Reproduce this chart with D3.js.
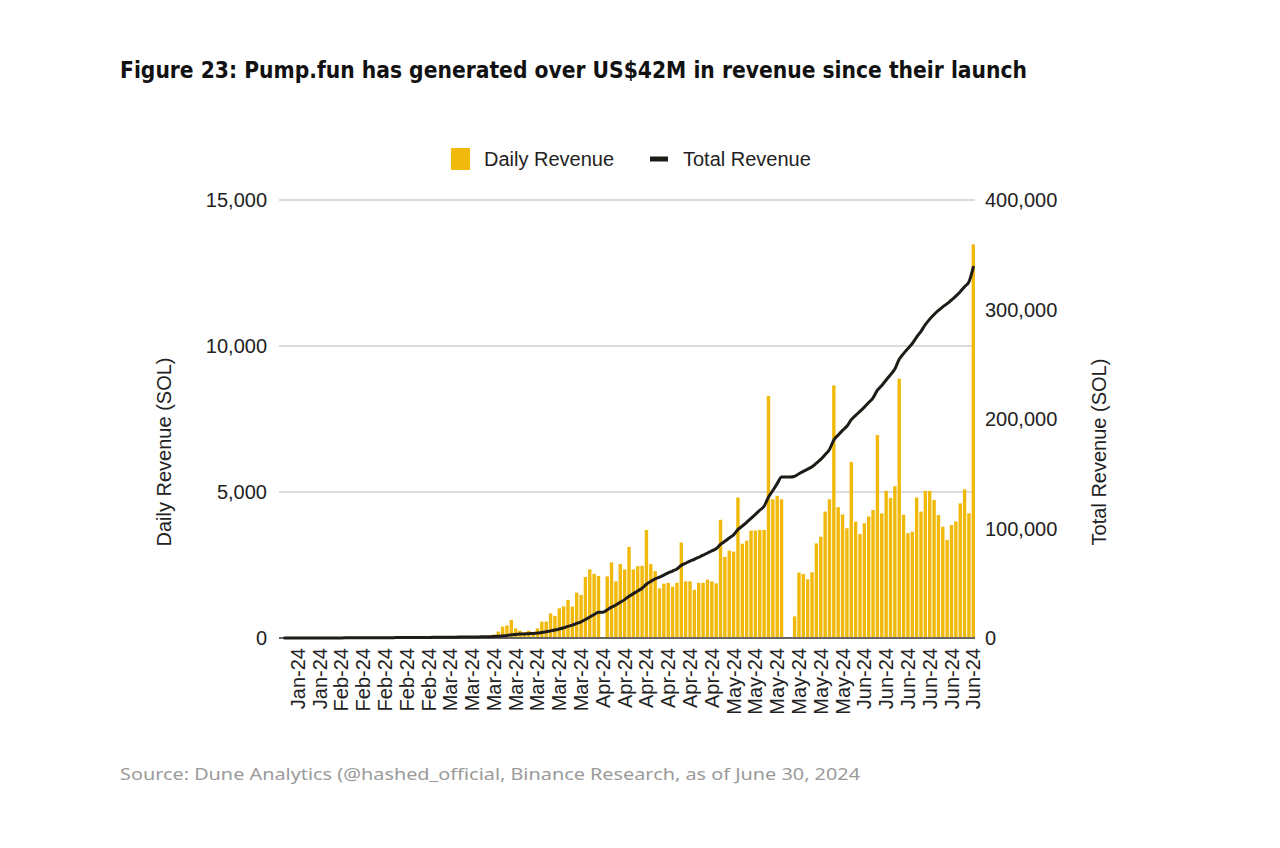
<!DOCTYPE html>
<html>
<head>
<meta charset="utf-8">
<script src="https://cdn.jsdelivr.net/npm/d3@7"></script>
<style>
  html, body { margin: 0; padding: 0; background: #ffffff; }
  svg { display: block; }
</style>
</head>
<body>
<svg id="chart" width="1280" height="848"></svg>
<script>
// ---------------- DATA ----------------
const startDay = "2024-01-23";
const endDayExclusive = "2024-06-30";

// Daily revenue (SOL), one value per day from Jan 23 to Jun 29, 2024
const dailyRevenue = [
  3,4,4,6,5,7,6,8,9,
  10,12,11,14,13,15,16,14,18,17,19,20,18,22,21,24,23,25,22,26,28,27,30,29,31,33,30,35,34,
  36,38,40,42,45,48,50,55,60,80,
  120,220,390,430,620,330,250,200,250,200,330,560,560,845,760,1015,1085,1300,1075,1555,1475,2090,2350,2195,
  2125,0,2110,2590,1940,2535,2350,3120,2350,2460,2470,3700,2530,2290,1700,1860,1890,1760,1890,3270,1940,1940,1650,1890,1890,2000,1940,1870,
  4050,2780,2990,2960,4810,3230,3330,3680,3680,3700,3700,8290,4750,4870,4750,0,0,
  740,2240,2190,2010,2250,3240,3470,4330,4750,8650,4480,4230,3760,6030,3985,3560,3930,4160,4385,6950,
  4270,5040,4800,5200,8880,4220,3590,3640,4810,4330,5040,5040,4730,4210,3810,3360,3870,3990,4610,5090,4270,13480
];

// Total revenue (SOL), same days
const totalRevenue = [
  3,7,11,17,22,29,35,43,52,
  62,74,85,99,112,127,143,157,175,192,211,231,249,271,292,316,339,364,386,412,440,467,497,526,557,590,620,655,689,
  725,763,803,845,890,938,988,1043,1103,1183,
  1303,1523,1913,2343,2963,3293,3543,3743,3993,4193,4523,5083,5643,6488,7248,8263,9348,10648,11723,13278,14753,16843,19193,21388,
  23513,23513,25623,28213,30153,32688,35038,38158,40508,42968,45438,49138,51668,53958,55658,57518,59408,61168,63058,66328,68268,70208,71858,73748,75638,77638,79578,81448,
  85498,88278,91268,94228,99038,102268,105598,109278,112958,116658,120358,128648,134700,141000,147000,147000,147000,
  147740,149980,152170,154180,156430,159670,163140,167470,172220,180870,185350,189580,193340,199370,203355,206915,210845,215005,219390,226340,
  230610,235650,240450,245650,254530,259750,264340,268980,274790,280120,286160,291200,295430,299140,302450,305310,308680,312170,316280,320870,325140,338620
];

const tickDates = [
  "2024-01-26","2024-01-31","2024-02-05","2024-02-10","2024-02-15","2024-02-20","2024-02-25",
  "2024-03-01","2024-03-06","2024-03-11","2024-03-16","2024-03-21","2024-03-26","2024-03-31",
  "2024-04-05","2024-04-10","2024-04-15","2024-04-20","2024-04-25","2024-04-30",
  "2024-05-05","2024-05-10","2024-05-15","2024-05-20","2024-05-25","2024-05-30",
  "2024-06-04","2024-06-09","2024-06-14","2024-06-19","2024-06-24","2024-06-29"
];
const tickLabels = [
  "Jan-24","Jan-24","Feb-24","Feb-24","Feb-24","Feb-24","Feb-24",
  "Mar-24","Mar-24","Mar-24","Mar-24","Mar-24","Mar-24","Mar-24",
  "Apr-24","Apr-24","Apr-24","Apr-24","Apr-24","Apr-24",
  "May-24","May-24","May-24","May-24","May-24","May-24",
  "Jun-24","Jun-24","Jun-24","Jun-24","Jun-24","Jun-24"
];
const leftTicks = [0, 5000, 10000, 15000];
const rightTicks = [0, 100000, 200000, 300000, 400000];
const seriesNames = ["Daily Revenue", "Total Revenue"];

const titleText = "Figure 23: Pump.fun has generated over US$42M in revenue since their launch";
const sourceText = "Source: Dune Analytics (@hashed_official, Binance Research, as of June 30, 2024";

// ---------------- CHART ----------------
const parse = d3.timeParse("%Y-%m-%d");
const fmtKey = d3.timeFormat("%Y-%m-%d");
const days = d3.timeDay.range(parse(startDay), parse(endDayExclusive)).map(fmtKey);

const svg = d3.select("#chart");
const plot = { left: 283, right: 975, top: 200, bottom: 638 };
const barColor = "#F0B90B";
const lineColor = "#1f1b16";
const textFont = "'Liberation Sans', Arial, sans-serif";
const fs = 20;

const x = d3.scaleBand().domain(days).range([plot.left, plot.right]).paddingInner(0.22).paddingOuter(0);
const yL = d3.scaleLinear().domain([0, 15000]).range([plot.bottom, plot.top]);
const yR = d3.scaleLinear().domain([0, 400000]).range([plot.bottom, plot.top]);
const fmt = d3.format(",");

// Title
svg.append("text")
  .attr("x", 120).attr("y", 78)
  .attr("font-family", "'DejaVu Sans Condensed', 'Liberation Sans Narrow', 'Roboto', sans-serif")
  .attr("font-weight", "bold")
  .attr("font-size", 23)
  .attr("fill", "#111")
  .attr("textLength", 907)
  .attr("lengthAdjust", "spacingAndGlyphs")
  .text(titleText);

// Gridlines (left axis ticks)
svg.append("g").selectAll("line")
  .data(leftTicks.filter(d => d > 0))
  .join("line")
  .attr("x1", 279).attr("x2", plot.right)
  .attr("y1", d => yL(d)).attr("y2", d => yL(d))
  .attr("stroke", "#cfcfcf").attr("stroke-width", 1.3);

// Bars
svg.append("g").selectAll("rect")
  .data(days.map((d, i) => ({ day: d, v: dailyRevenue[i] })))
  .join("rect")
  .attr("x", d => x(d.day))
  .attr("width", x.bandwidth())
  .attr("y", d => yL(d.v))
  .attr("height", d => plot.bottom - yL(d.v))
  .attr("fill", barColor);

// Baseline
svg.append("line")
  .attr("x1", 279).attr("x2", plot.right)
  .attr("y1", plot.bottom).attr("y2", plot.bottom)
  .attr("stroke", "#666").attr("stroke-width", 2);

// Total line
const line = d3.line()
  .x((d, i) => x(days[i]) + x.bandwidth() / 2)
  .y(d => yR(d))
  .curve(d3.curveMonotoneX);
svg.append("path")
  .datum(totalRevenue)
  .attr("d", line)
  .attr("fill", "none")
  .attr("stroke", lineColor)
  .attr("stroke-width", 3)
  .attr("stroke-linejoin", "round")
  .attr("stroke-linecap", "round");

// Left axis labels
svg.append("g").selectAll("text")
  .data(leftTicks)
  .join("text")
  .attr("x", 267).attr("y", d => yL(d))
  .attr("dy", "0.35em")
  .attr("text-anchor", "end")
  .attr("font-family", textFont).attr("font-size", fs)
  .attr("fill", "#222")
  .text(d => fmt(d));

// Right axis labels
svg.append("g").selectAll("text")
  .data(rightTicks)
  .join("text")
  .attr("x", 985).attr("y", d => yR(d))
  .attr("dy", "0.35em")
  .attr("text-anchor", "start")
  .attr("font-family", textFont).attr("font-size", fs)
  .attr("fill", "#222")
  .text(d => fmt(d));

// X tick labels
svg.append("g").selectAll("text")
  .data(tickDates.map((d, i) => ({ day: d, label: tickLabels[i] })))
  .join("text")
  .attr("transform", d => `translate(${x(d.day) + x.bandwidth() / 2},${plot.bottom + 10}) rotate(-90)`)
  .attr("dy", "0.35em")
  .attr("text-anchor", "end")
  .attr("font-family", textFont).attr("font-size", fs)
  .attr("fill", "#222")
  .text(d => d.label);

// Axis titles
svg.append("text")
  .attr("transform", `translate(171,452) rotate(-90)`)
  .attr("text-anchor", "middle")
  .attr("font-family", textFont).attr("font-size", fs)
  .attr("fill", "#222")
  .text("Daily Revenue (SOL)");
svg.append("text")
  .attr("transform", `translate(1106,452) rotate(-90)`)
  .attr("text-anchor", "middle")
  .attr("font-family", textFont).attr("font-size", fs)
  .attr("fill", "#222")
  .text("Total Revenue (SOL)");

// Legend
const lg = svg.append("g");
lg.append("rect").attr("x", 451).attr("y", 148).attr("width", 19).attr("height", 22).attr("fill", barColor);
lg.append("text").attr("x", 484).attr("y", 166)
  .attr("font-family", textFont).attr("font-size", fs).attr("fill", "#222")
  .text(seriesNames[0]);
lg.append("line").attr("x1", 650).attr("x2", 668).attr("y1", 159).attr("y2", 159)
  .attr("stroke", lineColor).attr("stroke-width", 5);
lg.append("text").attr("x", 683).attr("y", 166)
  .attr("font-family", textFont).attr("font-size", fs).attr("fill", "#222")
  .text(seriesNames[1]);

// Source
svg.append("text")
  .attr("x", 120).attr("y", 780)
  .attr("font-family", "'Noto Sans', 'Open Sans', sans-serif")
  .attr("font-size", 17)
  .attr("fill", "#9a9a9a")
  .attr("textLength", 740)
  .attr("lengthAdjust", "spacingAndGlyphs")
  .text(sourceText);
</script>
</body>
</html>
